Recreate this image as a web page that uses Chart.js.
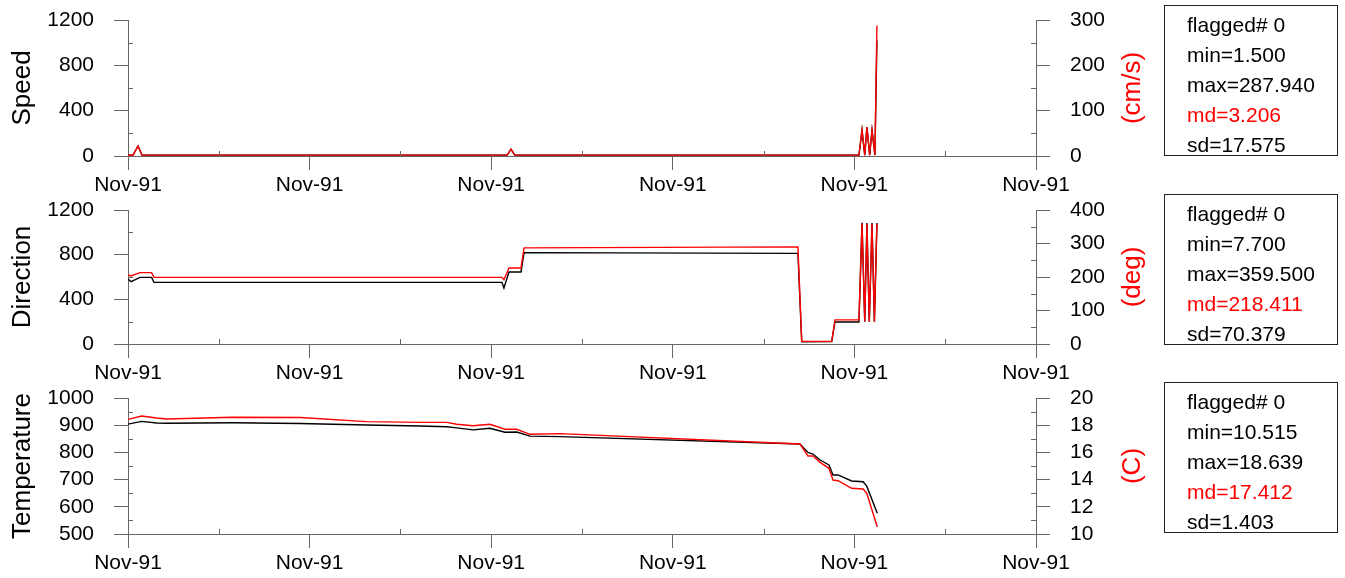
<!DOCTYPE html>
<html>
<head>
<meta charset="utf-8">
<script src="https://cdn.jsdelivr.net/npm/chart.js@4.4.1/dist/chart.umd.min.js"></script>
<style>
  body { margin: 0; background: #fff; font-family: "Liberation Sans", Arial, sans-serif; }
  #page { position: relative; width: 1345px; height: 578px; overflow: hidden; }
  canvas { position: absolute; left: 0; }
  .unit {
    position: absolute; color: #f00; font-size: 26px; line-height: 26px; white-space: nowrap;
    transform: translate(-50%, -50%) rotate(-90deg);
  }
  .stats {
    position: absolute; left: 1164px; width: 174px; height: 151px; box-sizing: border-box;
    border: 1px solid #222; padding: 4px 0 0 22px; font-size: 21px; line-height: 30px; color: #000;
  }
  .stats .md { color: #f00; }
</style>
</head>
<body>
<div id="page">
  <canvas id="speed" width="1345" height="200" style="top:0px"></canvas>
  <canvas id="direction" width="1345" height="200" style="top:190px"></canvas>
  <canvas id="temperature" width="1345" height="200" style="top:378px"></canvas>

  <div class="unit" style="left:1131px; top:88px">(cm/s)</div>
  <div class="unit" style="left:1131px; top:277px">(deg)</div>
  <div class="unit" style="left:1131px; top:466px">(C)</div>

  <div class="stats" style="top:5px">
    <div>flagged# 0</div><div>min=1.500</div><div>max=287.940</div><div class="md">md=3.206</div><div>sd=17.575</div>
  </div>
  <div class="stats" style="top:194px">
    <div>flagged# 0</div><div>min=7.700</div><div>max=359.500</div><div class="md">md=218.411</div><div>sd=70.379</div>
  </div>
  <div class="stats" style="top:382px">
    <div>flagged# 0</div><div>min=10.515</div><div>max=18.639</div><div class="md">md=17.412</div><div>sd=1.403</div>
  </div>
</div>
<script>
// x positions are in tick intervals (6 ticks, all labelled Nov-91)
const xTickLabels = ["Nov-91", "Nov-91", "Nov-91", "Nov-91", "Nov-91", "Nov-91"];

const speedTime = [0, 0.028, 0.055, 0.077, 2.088, 2.109, 2.13, 4.025, 4.042, 4.057, 4.069, 4.084, 4.097, 4.113, 4.124];
const speedCms = [1.5, 2, 22, 2, 2, 15, 2, 2, 57, 2, 64, 2, 57, 2, 288];
const speedLeft = [6, 8, 88, 8, 8, 60, 8, 8, 228, 8, 256, 8, 228, 8, 1020];

const dirTime = [0, 0.017, 0.066, 0.13, 0.143, 2.059, 2.07, 2.098, 2.164, 2.181, 3.689, 3.71, 3.875, 3.893,
  4.025, 4.042, 4.057, 4.069, 4.082, 4.097, 4.11, 4.124];
const dirDeg = [206, 203, 213, 213, 199, 199, 192, 227, 227, 287, 290, 7.7, 7.7, 72,
  72, 359.5, 67, 359, 67, 359, 67, 359];
const dirLeft = [582, 558, 597, 597, 552, 552, 501, 645, 645, 818, 812, 20, 22, 197,
  197, 1086, 200, 1083, 200, 1083, 200, 1083];

const tempTime = [0, 0.075, 0.158, 0.213, 0.578, 0.947, 1.314, 1.608, 1.755, 1.81, 1.9, 1.993, 2.076, 2.14,
  2.214, 2.379, 3.7, 3.744, 3.772, 3.811, 3.86, 3.882, 3.91, 3.985, 4.048, 4.068, 4.126];
const tempC = [18.43, 18.68, 18.53, 18.46, 18.58, 18.57, 18.26, 18.21, 18.21, 18.07, 17.96, 18.07, 17.7, 17.7,
  17.33, 17.38, 16.62, 15.74, 15.74, 15.27, 14.83, 13.97, 13.92, 13.36, 13.31, 13.0, 10.515];
const tempLeft = [904, 914, 908, 907, 909, 906, 901, 897, 894.5, 890, 883, 888.6, 874, 875,
  860, 858, 831, 800, 794, 772, 754, 717, 717, 695, 692, 676, 576];

const FONT = '"Liberation Sans", Arial, sans-serif';
const AXIS = "#666";
Chart.defaults.font.family = FONT;
Chart.defaults.color = "#000";

// short inward ticks halfway between the labelled ones
const minorTicks = {
  id: "minorTicks",
  afterDraw(chart) {
    const ctx = chart.ctx;
    const area = chart.chartArea;
    ctx.save();
    ctx.strokeStyle = AXIS;
    ctx.lineWidth = 1;
    Object.values(chart.scales).forEach((s) => {
      const t = s.ticks;
      for (let i = 0; i < t.length - 1; i++) {
        const p = Math.round(s.getPixelForValue((t[i].value + t[i + 1].value) / 2)) + 0.5;
        ctx.beginPath();
        if (s.isHorizontal()) {
          ctx.moveTo(p, area.bottom);
          ctx.lineTo(p, area.bottom - 5);
        } else if (s.position === "left") {
          ctx.moveTo(area.left, p);
          ctx.lineTo(area.left + 5, p);
        } else {
          ctx.moveTo(area.right, p);
          ctx.lineTo(area.right - 5, p);
        }
        ctx.stroke();
      }
    });
    ctx.restore();
  },
};

function yAxis(position, min, max, step, title) {
  return {
    position,
    min,
    max,
    afterFit: (s) => {
      s.width = position === "left" ? 128 : 100;
      s.paddingTop = 0;
      s.paddingBottom = 0;
    },
    ticks: { stepSize: step, autoSkip: false, font: { size: 21 }, padding: 20, callback: (v) => String(v) },
    grid: { drawOnChartArea: false, drawTicks: true, tickLength: 14, color: AXIS, lineWidth: 1 },
    border: { display: true, color: AXIS, width: 1 },
    title: title
      ? { display: true, text: title, font: { size: 26 }, color: "#000", padding: { top: 7, bottom: 0 } }
      : { display: false },
  };
}

function panel(id, title, time, leftVals, rightVals, left, right, plotBottom) {
  const canvas = document.getElementById(id);
  const xHeight = canvas.height - plotBottom;
  new Chart(canvas, {
    type: "line",
    data: {
      datasets: [
        {
          data: time.map((t, i) => ({ x: t, y: rightVals[i] })),
          yAxisID: "yR", borderColor: "#ff0000", borderWidth: 1.4, pointRadius: 0, tension: 0, order: 0,
        },
        {
          data: time.map((t, i) => ({ x: t, y: leftVals[i] })),
          yAxisID: "yL", borderColor: "#000000", borderWidth: 1.4, pointRadius: 0, tension: 0, order: 1,
        },
      ],
    },
    options: {
      responsive: false,
      animation: false,
      events: [],
      layout: { autoPadding: false, padding: { top: 20, left: 0, right: 209, bottom: 0 } },
      plugins: { legend: { display: false }, tooltip: { enabled: false } },
      scales: {
        x: {
          type: "linear",
          min: 0,
          max: xTickLabels.length - 1,
          afterFit: (s) => {
            s.height = xHeight;
            s.paddingLeft = 0;
            s.paddingRight = 0;
          },
          ticks: {
            stepSize: 1, autoSkip: false, maxRotation: 0, font: { size: 21 }, padding: 3,
            callback: (v, i) => xTickLabels[i],
          },
          grid: { drawOnChartArea: false, drawTicks: true, tickLength: 14, color: AXIS, lineWidth: 1 },
          border: { display: true, color: AXIS, width: 1 },
        },
        yL: yAxis("left", left[0], left[1], left[2], title),
        yR: yAxis("right", right[0], right[1], right[2], null),
      },
    },
    plugins: [minorTicks],
  });
}

panel("speed", "Speed", speedTime, speedLeft, speedCms, [0, 1200, 400], [0, 300, 100], 156);
panel("direction", "Direction", dirTime, dirLeft, dirDeg, [0, 1200, 400], [0, 400, 100], 154);
panel("temperature", "Temperature", tempTime, tempLeft, tempC, [500, 1000, 100], [10, 20, 2], 156);
</script>
</body>
</html>
